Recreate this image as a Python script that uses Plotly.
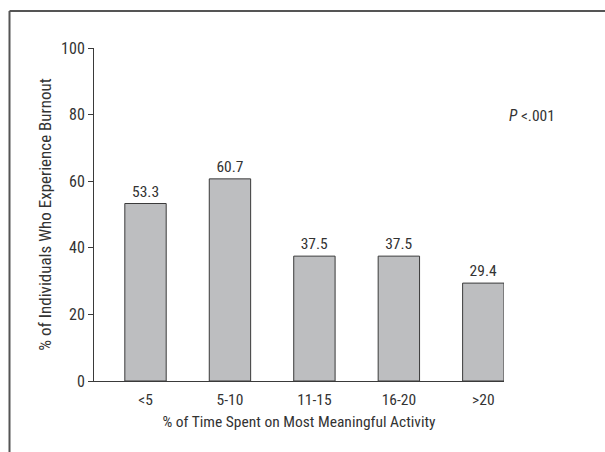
import plotly.graph_objects as go

categories = ["<5", "5-10", "11-15", "16-20", ">20"]
values = [53.3, 60.7, 37.5, 37.5, 29.4]
value_labels = ["53.3", "60.7", "37.5", "37.5", "29.4"]
y_ticks = [0, 20, 40, 60, 80, 100]

FONT = "Liberation Sans Narrow, Roboto Condensed, Arial Narrow, Liberation Sans, sans-serif"
DARK = "#333333"

fig = go.Figure(go.Bar(
    x=list(range(len(categories))),
    y=values,
    text=value_labels,
    textposition="outside",
    textfont=dict(family=FONT, size=15.5, color=DARK),
    cliponaxis=False,
    width=0.49,
    marker=dict(color="#bdbec0", line=dict(color="#3a3a3a", width=1)),
))

fig.update_layout(
    width=605, height=452,
    margin=dict(l=94, r=101, t=48, b=71),
    paper_bgcolor="white", plot_bgcolor="white",
    showlegend=False,
    font=dict(family=FONT, size=15, color=DARK),
    xaxis=dict(
        range=[-0.61, 4.245],
        tickmode="array",
        tickvals=list(range(len(categories))),
        ticktext=categories,
        showline=True, linecolor="#3a3a3a", linewidth=1,
        ticks="", showgrid=False, zeroline=False,
        ticklabelstandoff=4,
        title=dict(text="% of Time Spent on Most Meaningful Activity", standoff=8,
                   font=dict(family=FONT, size=15.5, color=DARK)),
        tickfont=dict(family=FONT, size=15.5, color=DARK),
        fixedrange=True,
    ),
    yaxis=dict(
        range=[0, 100],
        tickmode="array", tickvals=y_ticks,
        showline=True, linecolor="#3a3a3a", linewidth=1,
        ticks="outside", ticklen=5, tickcolor="#3a3a3a",
        showgrid=False, zeroline=False,
        title=dict(text="% of Individuals Who Experience Burnout", standoff=5,
                   font=dict(family=FONT, size=17, color=DARK)),
        tickfont=dict(family=FONT, size=16, color=DARK),
        fixedrange=True,
    ),
    annotations=[dict(
        text="<i>P</i> <.001", xref="paper", yref="y",
        x=1.008, y=79.5, xanchor="left", yanchor="middle", showarrow=False,
        font=dict(family=FONT, size=15.5, color=DARK),
    )],
    shapes=[
        dict(type="line", xref="paper", yref="paper",
             x0=(9.5 - 94) / 410, x1=(610 - 94) / 410,
             y0=(381 - 11) / 333, y1=(381 - 11) / 333,
             line=dict(color="#555555", width=2)),
        dict(type="line", xref="paper", yref="paper",
             x0=(9.5 - 94) / 410, x1=(9.5 - 94) / 410,
             y0=(381 - 11) / 333, y1=(381 - 460) / 333,
             line=dict(color="#555555", width=2)),
    ],
)

fig.write_html("out.html", config={"displayModeBar": False},
               post_script="document.body.style.margin='0px';document.body.style.overflow='hidden';")
